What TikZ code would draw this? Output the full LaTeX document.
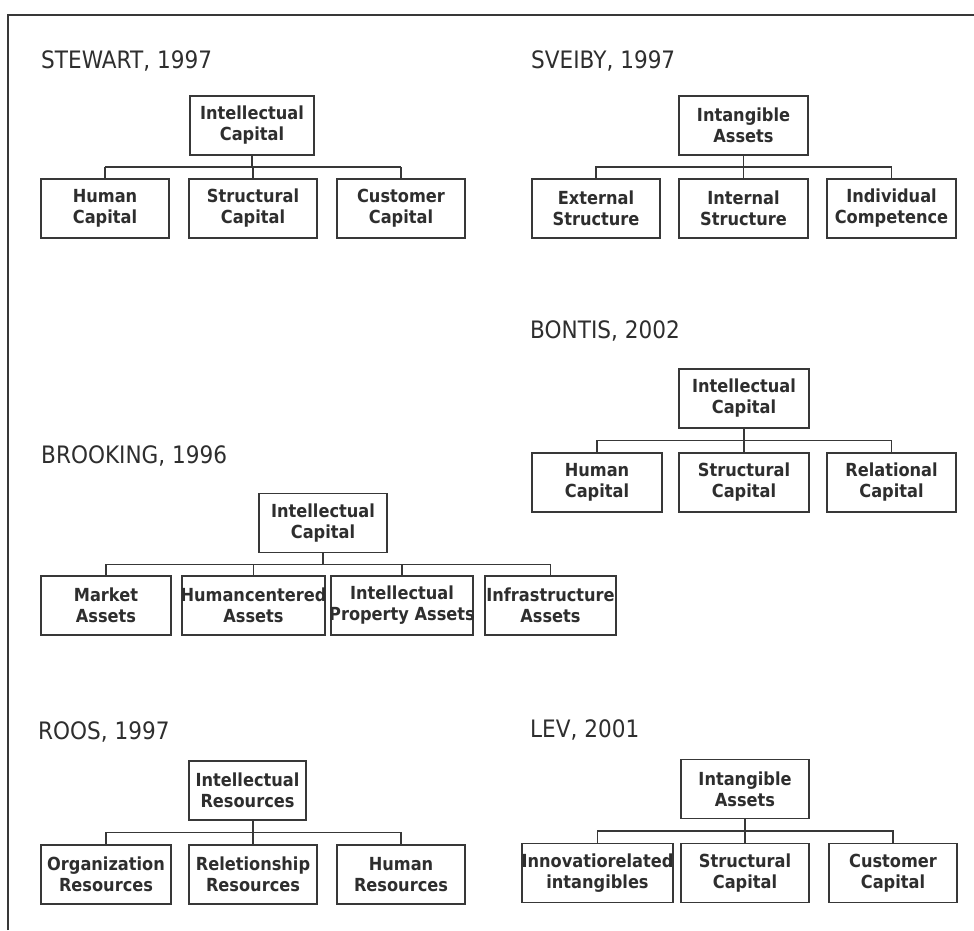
\documentclass[tikz,border=0pt]{standalone}
\usepackage{fontspec}
\setmainfont{DejaVu Sans}[FakeStretch=0.9]
\usetikzlibrary{calc}
\definecolor{ink}{HTML}{2E2E2E}
\definecolor{edge}{HTML}{383838}
\tikzset{
  box/.style={draw=edge, line width=1.4pt, minimum height=59pt, inner sep=0pt,
    align=center, text=ink, font=\fontsize{18}{21}\selectfont\bfseries},
  title/.style={anchor=base west, inner sep=0pt, text=ink, font=\fontsize{24}{28}\selectfont},
  link/.style={draw=edge, line width=1.4pt},
  boldlink/.style={draw=edge, line width=2.6pt},
  frame/.style={draw=edge, line width=1.8pt}
}
\begin{document}
\begin{tikzpicture}[x=1pt,y=-1pt]
\useasboundingbox (0,0) rectangle (974,930);
\fill[white] (0,0) rectangle (974,930);
% frame
\coordinate (fa) at (8,930);
\coordinate (fb) at (8,15);
\coordinate (fc) at (974,15);
\draw[frame] (fa) -- (fb) -- (fc);

% ---------- STEWART ----------
\node[title] (tS) at (41,68) {STEWART, 1997};
\node[box, minimum width=124pt] (s0) at (252,125.5) {Intellectual\\Capital};
\node[box, minimum width=128pt] (s1) at (105,208.5) {Human\\Capital};
\node[box, minimum width=128pt] (s2) at (253,208.5) {Structural\\Capital};
\node[box, minimum width=128pt] (s3) at (401,208.5) {Customer\\Capital};
\coordinate (sm) at ($(s0.south)!.5!(s2.north)$);
\draw[link] (s0.south) -- (s0.south |- sm);
\draw[boldlink] (s1.north |- sm) -- (s3.north |- sm);
\draw[link] (s1.north) -- (s1.north |- sm);
\draw[link] (s2.north) -- (s2.north |- sm);
\draw[link] (s3.north) -- (s3.north |- sm);

% ---------- SVEIBY ----------
\node[title] (tV) at (531,68) {SVEIBY, 1997};
\node[box, minimum width=129pt] (v0) at (743.5,125.5) {Intangible\\Assets};
\node[box, minimum width=128pt] (v1) at (596,208.5) {External\\Structure};
\node[box, minimum width=129pt] (v2) at (743.5,208.5) {Internal\\Structure};
\node[box, minimum width=129pt] (v3) at (891.5,208.5) {Individual\\Competence};
\coordinate (vm) at ($(v0.south)!.5!(v2.north)$);
\draw[link] (v0.south) -- (v0.south |- vm);
\draw[link] (v1.north) |- (vm) -| (v3.north);
\draw[link] (v2.north) -- (v2.north |- vm);

% ---------- BONTIS ----------
\node[title] (tB) at (530,338) {BONTIS, 2002};
\node[box, minimum width=130pt] (b0) at (744,398.5) {Intellectual\\Capital};
\node[box, minimum width=130pt] (b1) at (597,482.5) {Human\\Capital};
\node[box, minimum width=130pt] (b2) at (744,482.5) {Structural\\Capital};
\node[box, minimum width=129pt] (b3) at (891.5,482.5) {Relational\\Capital};
\coordinate (bm) at ($(b0.south)!.5!(b2.north)$);
\draw[link] (b0.south) -- (b0.south |- bm);
\draw[link] (b1.north) |- (bm) -| (b3.north);
\draw[link] (b2.north) -- (b2.north |- bm);

% ---------- BROOKING ----------
\node[title] (tK) at (41,463) {BROOKING, 1996};
\node[box, minimum width=128pt] (k0) at (323,523) {Intellectual\\Capital};
\node[box, minimum width=130pt] (k1) at (106,605.5) {Market\\Assets};
\node[box, minimum width=143pt] (k2) at (253.5,605.5) {\makebox[143pt]{Humancentered}\\Assets};
\node[box, minimum width=142pt] (k3) at (402,605.5) {Intellectual\\\makebox[142pt]{Property Assets}};
\node[box, minimum width=131pt] (k4) at (550.5,605.5) {Infrastructure\\Assets};
\coordinate (kb) at ($(k0.south)!.5!(k0.south |- k1.north)$);
\draw[link] (k0.south) -- (kb);
\draw[link] (k1.north) |- (kb) -| (k4.north);
\draw[link] (k2.north) -- (k2.north |- kb);
\draw[link] (k3.north) -- (k3.north |- kb);

% ---------- ROOS ----------
\node[title] (tR) at (38,739) {ROOS, 1997};
\node[box, minimum width=117pt] (r0) at (247.5,790.5) {Intellectual\\Resources};
\node[box, minimum width=130pt] (r1) at (106,874.5) {Organization\\Resources};
\node[box, minimum width=128pt] (r2) at (253,874.5) {Reletionship\\Resources};
\node[box, minimum width=128pt] (r3) at (401,874.5) {Human\\Resources};
\coordinate (rm) at ($(r2.north |- r0.south)!.5!(r2.north)$);
\draw[link] (r2.north |- r0.south) -- (rm);
\draw[link] (r1.north) |- (rm) -| (r3.north);
\draw[link] (r2.north) -- (rm);

% ---------- LEV ----------
\node[title] (tL) at (530,737) {LEV, 2001};
\node[box, minimum width=128pt] (l0) at (745,789) {Intangible\\Assets};
\node[box, minimum width=151pt] (l1) at (597.5,873) {\makebox[151pt]{Innovatiorelated}\\intangibles};
\node[box, minimum width=128pt] (l2) at (745,873) {Structural\\Capital};
\node[box, minimum width=128pt] (l3) at (893,873) {Customer\\Capital};
\coordinate (lm) at ($(l0.south)!.5!(l2.north)$);
\draw[link] (l0.south) -- (l0.south |- lm);
\draw[link] (l1.north) |- (lm) -| (l3.north);
\draw[link] (l2.north) -- (l2.north |- lm);
\end{tikzpicture}
\end{document}
